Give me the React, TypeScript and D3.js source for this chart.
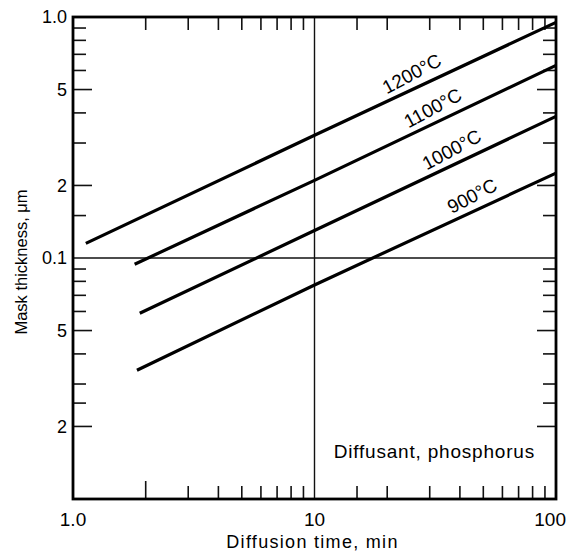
import * as d3 from "d3";

// curves: diffusion time (min) vs mask thickness (um), read at start, 10 min and 100 min
const temps = ["1200°C", "1100°C", "1000°C", "900°C"];
const startTimes = [1.13, 1.8, 1.89, 1.84];
const thickStart = [0.115, 0.0942, 0.059, 0.0342];
const thickAt10 = [0.323, 0.21, 0.13, 0.0773];
const thickAt100 = [0.95, 0.63, 0.387, 0.225];

const xTickVals = [1, 10, 100];
const xTickText = ["1.0", "10", "100"];
const yTickVals = [1, 0.5, 0.2, 0.1, 0.05, 0.02];
const yTickText = ["1.0", "5", "2", "0.1", "5", "2"];

const xMinor = [2, 3, 4, 5, 6, 7, 8, 9, 15, 20, 30, 40, 50, 60, 70, 80, 90];
const xLong = [2];
const yMinor = [0.9, 0.8, 0.7, 0.6, 0.5, 0.4, 0.3, 0.2, 0.15, 0.09, 0.08, 0.07, 0.06, 0.05, 0.04, 0.03, 0.025, 0.02];
const yLong = [0.5, 0.2, 0.05, 0.02];

// where along each curve the temperature label sits (min)
const labelTimes = [27, 33, 39.5, 48];

const W = 568;
const H = 552;
const M = { top: 17, right: 12, bottom: 53, left: 73 };
const FONT = "'Liberation Sans', Arial, Helvetica, sans-serif";

export default function App() {
  const x = d3.scaleLog().domain([1, 100]).range([M.left, W - M.right]);
  const y = d3.scaleLog().domain([0.01, 1]).range([H - M.bottom, M.top]);
  const x0 = M.left, x1 = W - M.right, y0 = H - M.bottom, y1 = M.top;

  const line = d3
    .line<[number, number]>()
    .x((d) => x(d[0]))
    .y((d) => y(d[1]));

  const curves = temps.map((t, i) => {
    const pts: [number, number][] = [
      [startTimes[i], thickStart[i]],
      [10, thickAt10[i]],
      [100, thickAt100[i]],
    ];
    return { t, pts };
  });

  // thickness on curve i at time tt (log-linear between read points)
  const interp = (i: number, tt: number) => {
    const a = tt <= 10 ? [startTimes[i], thickStart[i]] : [10, thickAt10[i]];
    const b = tt <= 10 ? [10, thickAt10[i]] : [100, thickAt100[i]];
    const f = (Math.log(tt) - Math.log(a[0])) / (Math.log(b[0]) - Math.log(a[0]));
    return Math.exp(Math.log(a[1]) + f * (Math.log(b[1]) - Math.log(a[1])));
  };

  const minorLen = 13;
  const longLen = 19;

  return (
    <svg
      width={W}
      height={H}
      style={{ position: "absolute", left: 0, top: 0, background: "#fff" }}
      fontFamily={FONT}
    >
      {/* grid lines at 10 min and 0.1 um */}
      <line x1={x(10)} x2={x(10)} y1={y1} y2={y0} stroke="#111" strokeWidth={1.4} />
      <line x1={x0} x2={x1} y1={y(0.1)} y2={y(0.1)} stroke="#111" strokeWidth={1.4} />

      {/* x ticks, bottom and top */}
      {xMinor.map((v) => {
        const len = xLong.includes(v) ? 18 : minorLen;
        return (
          <g key={"xt" + v} stroke="#111" strokeWidth={1.6}>
            <line x1={x(v)} x2={x(v)} y1={y0} y2={y0 - len} />
            <line x1={x(v)} x2={x(v)} y1={y1} y2={y1 + minorLen} />
          </g>
        );
      })}

      {/* y ticks, left and right */}
      {yMinor.map((v) => {
        const len = yLong.includes(v) ? longLen : minorLen;
        return (
          <g key={"yt" + v} stroke="#111" strokeWidth={1.6}>
            <line x1={x0} x2={x0 + len} y1={y(v)} y2={y(v)} />
            <line x1={x1} x2={x1 - len} y1={y(v)} y2={y(v)} />
          </g>
        );
      })}

      {/* frame */}
      <rect x={x0} y={y1} width={x1 - x0} height={y0 - y1} fill="none" stroke="#000" strokeWidth={2.8} />

      {/* curves */}
      {curves.map((c) => (
        <path key={c.t} d={line(c.pts) || ""} fill="none" stroke="#000" strokeWidth={3.2} />
      ))}

      {/* curve labels */}
      {curves.map((c, i) => {
        const tt = labelTimes[i];
        const px = x(tt);
        const py = y(interp(i, tt));
        const ax = x(100) - x(10);
        const ay = y(thickAt100[i]) - y(thickAt10[i]);
        const ang = (Math.atan2(ay, ax) * 180) / Math.PI;
        return (
          <text
            key={"l" + c.t}
            transform={`translate(${px},${py}) rotate(${ang - 3}) translate(0,-8)`}
            textAnchor="middle"
            fontSize={19}
            fill="#000"
          >
            {c.t}
          </text>
        );
      })}

      {/* y tick labels */}
      {yTickVals.map((v, i) => (
        <text key={"yl" + i} x={x0 - 6} y={y(v)} dy="0.36em" textAnchor="end" fontSize={18} fill="#000">
          {yTickText[i]}
        </text>
      ))}

      {/* x tick labels */}
      {xTickVals.map((v, i) => (
        <text
          key={"xl" + i}
          x={i === xTickVals.length - 1 ? W - 2 : x(v)}
          y={y0 + 27}
          textAnchor={i === xTickVals.length - 1 ? "end" : "middle"}
          fontSize={19}
          fill="#000"
        >
          {xTickText[i]}
        </text>
      ))}

      {/* axis titles */}
      <text
        x={(x0 + x1) / 2 - 2}
        y={H - 4}
        textAnchor="middle"
        fontSize={18}
        letterSpacing={1.3}
        fill="#000"
      >
        Diffusion time, min
      </text>
      <text
        transform={`translate(27,${(y0 + y1) / 2 + 4}) rotate(-90)`}
        textAnchor="middle"
        fontSize={16.5}
        fill="#000"
      >
        Mask thickness, μm
      </text>

      {/* annotation */}
      <text x={x1 - 21} y={458} textAnchor="end" fontSize={19} letterSpacing={0.8} fill="#000">
        Diffusant, phosphorus
      </text>
    </svg>
  );
}
